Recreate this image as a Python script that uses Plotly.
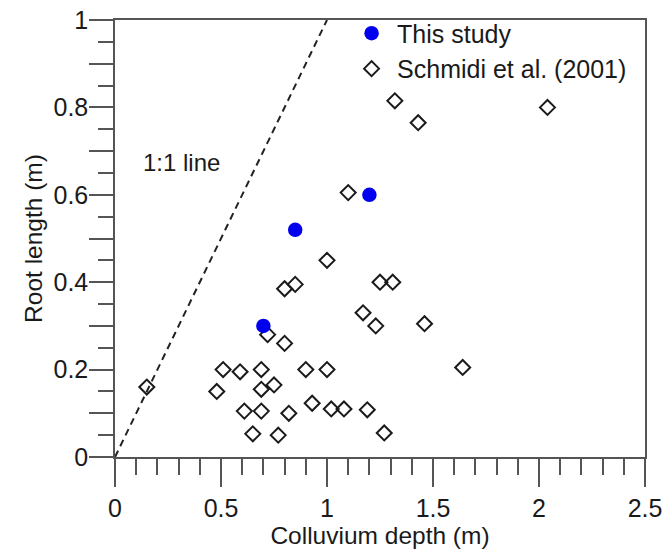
import plotly.graph_objects as go

# "This study" (blue circles)
this_x = [0.70, 0.85, 1.20]
this_y = [0.30, 0.52, 0.60]

# Schmidi et al. (2001) (open diamonds)
sch_x = [0.15, 0.51, 0.59, 0.69, 0.48, 0.69, 0.75, 0.61, 0.69, 0.82, 0.65, 0.77,
         0.80, 0.90, 1.00, 0.93, 1.02, 1.08, 1.19, 1.27, 1.64, 1.10, 1.00, 0.80,
         0.85, 1.25, 1.31, 1.17, 1.23, 1.46, 0.72, 1.32, 1.43, 2.04]
sch_y = [0.16, 0.20, 0.195, 0.20, 0.15, 0.155, 0.165, 0.105, 0.105, 0.10, 0.053, 0.05,
         0.26, 0.20, 0.20, 0.123, 0.11, 0.11, 0.108, 0.055, 0.205, 0.605, 0.45, 0.385,
         0.395, 0.40, 0.40, 0.33, 0.30, 0.305, 0.28, 0.815, 0.765, 0.80]

# 1:1 line
line_x = [0, 1]
line_y = [0, 1]

x_tick_vals = [0, 0.5, 1, 1.5, 2, 2.5]
x_tick_text = ["0", "0.5", "1", "1.5", "2", "2.5"]
y_tick_vals = [0, 0.1, 0.2, 0.3, 0.4, 0.5, 0.6, 0.7, 0.8, 0.9, 1.0]
y_tick_text = ["0", "", "0.2", "", "0.4", "", "0.6", "", "0.8", "", "1"]

FONT = "Arial, Liberation Sans, sans-serif"
AXC = "#555555"
TXT = "#1a1a1a"

fig = go.Figure()
fig.add_trace(go.Scatter(x=line_x, y=line_y, mode="lines", showlegend=False,
                         line=dict(color="#222222", width=2, dash="7px,5px"),
                         hoverinfo="skip"))
fig.add_trace(go.Scatter(x=sch_x, y=sch_y, mode="markers", name="Schmidi et al. (2001)",
                         legendrank=2,
                         marker=dict(symbol="diamond-open", size=11.5, color=TXT,
                                     line=dict(width=2, color=TXT))))
fig.add_trace(go.Scatter(x=this_x, y=this_y, mode="markers", name="This study",
                         legendrank=1,
                         marker=dict(symbol="circle", size=14.5, color="#0000ee",
                                     line=dict(width=0))))

fig.add_annotation(x=0.315, y=0.675, xref="x", yref="y", text="1:1 line",
                   showarrow=False, font=dict(family=FONT, size=24, color=TXT))

fig.update_layout(
    width=668, height=553,
    margin=dict(l=115, r=23, t=20, b=96, autoexpand=False),
    paper_bgcolor="white", plot_bgcolor="white",
    font=dict(family=FONT, size=24, color=TXT),
    legend=dict(x=0.436, y=1.022, xanchor="left", yanchor="top", itemwidth=41,
                bgcolor="rgba(0,0,0,0)", font=dict(family=FONT, size=25, color=TXT),
                tracegroupgap=0, itemsizing="trace"),
    xaxis=dict(range=[0, 2.5], tickvals=x_tick_vals, ticktext=x_tick_text,
               ticks="outside", ticklen=28, tickwidth=1.5, tickcolor=AXC,
               showline=True, linecolor=AXC, linewidth=1.5, mirror=True,
               showgrid=False, zeroline=False, automargin=False,
               minor=dict(dtick=0.1, tick0=0, ticks="outside", ticklen=16,
                          tickwidth=1.5, tickcolor=AXC, showgrid=False),
               tickfont=dict(family=FONT, size=25, color=TXT),
               title=dict(text="Colluvium depth (m)", standoff=4,
                          font=dict(family=FONT, size=24.5, color=TXT))),
    yaxis=dict(range=[0, 1], tickvals=y_tick_vals, ticktext=y_tick_text,
               ticks="outside", ticklen=24, tickwidth=1.5, tickcolor=AXC,
               showline=True, linecolor=AXC, linewidth=1.5, mirror=True,
               showgrid=False, zeroline=False, automargin=False,
               ticklabelstandoff=-4,
               minor=dict(dtick=0.05, tick0=0, ticks="outside", ticklen=15,
                          tickwidth=1.5, tickcolor=AXC, showgrid=False),
               tickfont=dict(family=FONT, size=25, color=TXT),
               title=dict(text="Root length (m)", standoff=4,
                          font=dict(family=FONT, size=24.5, color=TXT))),
)

fig.write_html("out.html", config={"displayModeBar": False},
               post_script="document.body.style.margin='0';")
